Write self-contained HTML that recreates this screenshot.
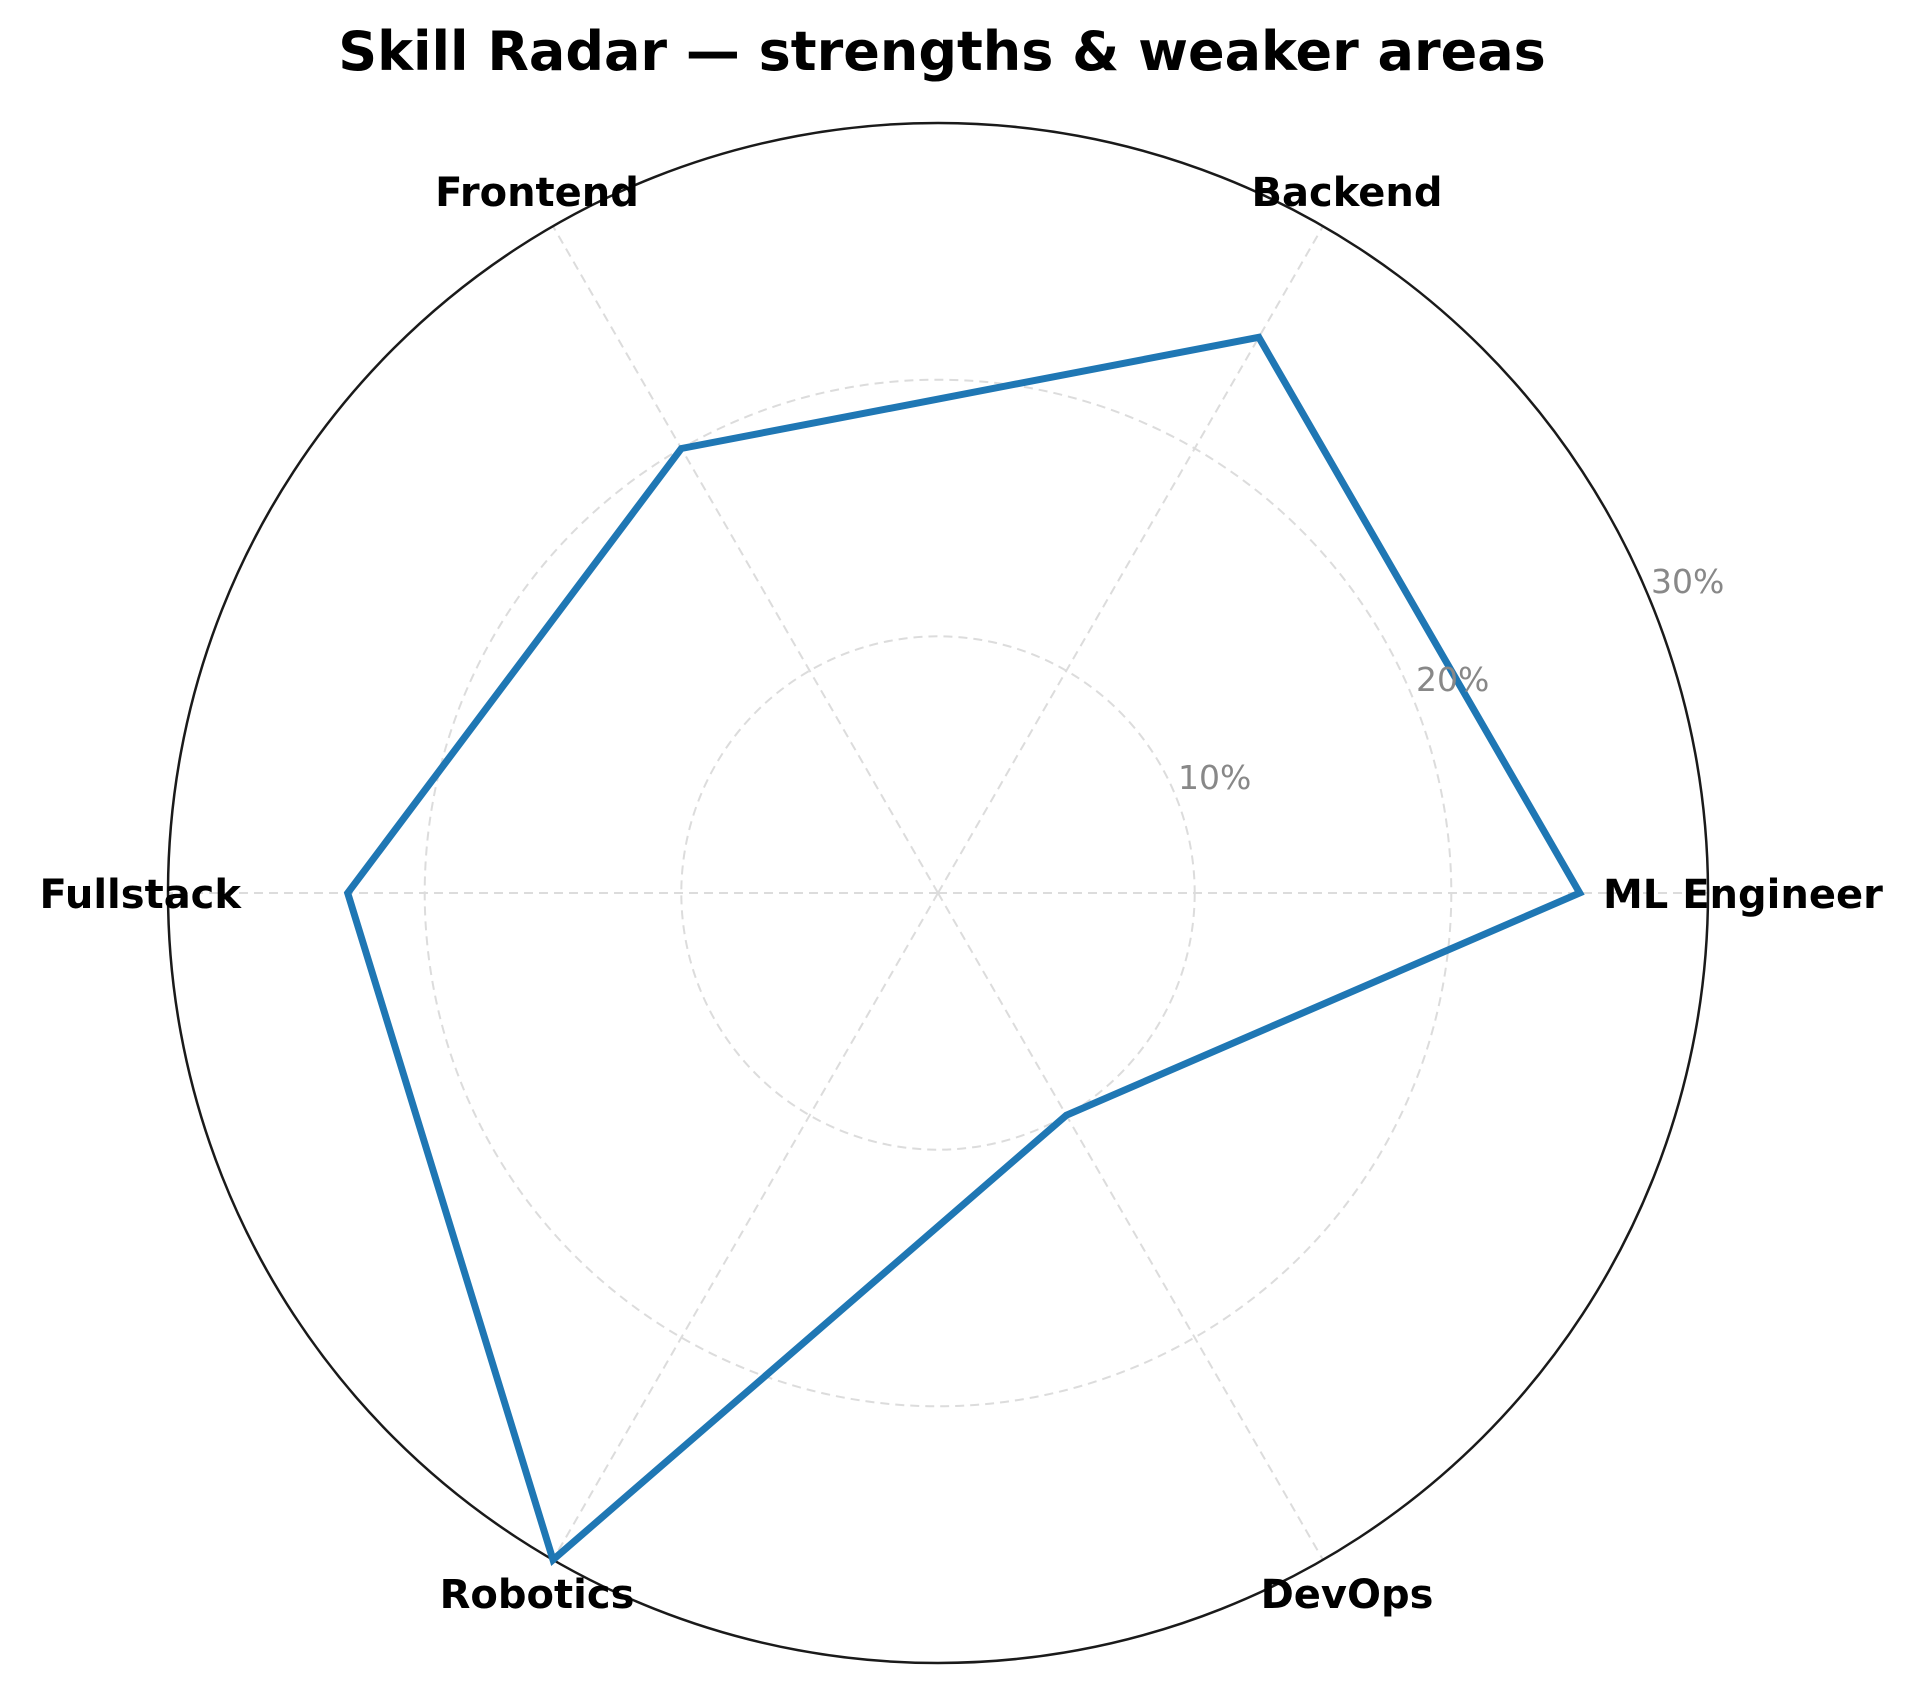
<!DOCTYPE html>
<html><head><meta charset="utf-8"><style>html,body{margin:0;padding:0;background:#fff}svg{display:block}</style></head>
<body>
<svg width="1920" height="1683" viewBox="0 0 1920 1683" xmlns="http://www.w3.org/2000/svg" font-family="'DejaVu Sans','Liberation Sans',sans-serif">
<rect width="1920" height="1683" fill="#fff"/>
<g transform="translate(938,893)">
<g stroke="#dcdcdc" stroke-width="2" stroke-dasharray="9,6" fill="none">
<circle cx="0" cy="0" r="256.7"/>
<circle cx="0" cy="0" r="513.3"/>
<line x1="0" y1="0" x2="770" y2="0"/>
<line x1="0" y1="0" x2="385" y2="-666.8"/>
<line x1="0" y1="0" x2="-385" y2="-666.8"/>
<line x1="0" y1="0" x2="-770" y2="0"/>
<line x1="0" y1="0" x2="-385" y2="666.8"/>
<line x1="0" y1="0" x2="385" y2="666.8"/>
</g>
<circle cx="0" cy="0" r="770" fill="none" stroke="#1a1a1a" stroke-width="2.5"/>
<polygon fill="none" stroke="#1f77b4" stroke-width="7" stroke-linejoin="miter"
points="641.7,0 320.8,-555.7 -256.7,-444.5 -590.3,0 -385,666.8 128.3,222.3"/>
</g>
<g fill="#888" font-size="33">
<text x="1178" y="789">10%</text>
<text x="1416" y="691">20%</text>
<text x="1651" y="593">30%</text>
</g>
<g font-weight="bold" font-size="40" fill="#000">
<text x="1603" y="908">ML Engineer</text>
<text x="241" y="908" text-anchor="end">Fullstack</text>
<text x="1347" y="206" text-anchor="middle">Backend</text>
<text x="537" y="206" text-anchor="middle">Frontend</text>
<text x="537" y="1608" text-anchor="middle">Robotics</text>
<text x="1347" y="1608" text-anchor="middle">DevOps</text>
</g>
<text x="942" y="70" text-anchor="middle" font-weight="bold" font-size="54" fill="#000">Skill Radar — strengths &amp; weaker areas</text>
</svg>
</body></html>
